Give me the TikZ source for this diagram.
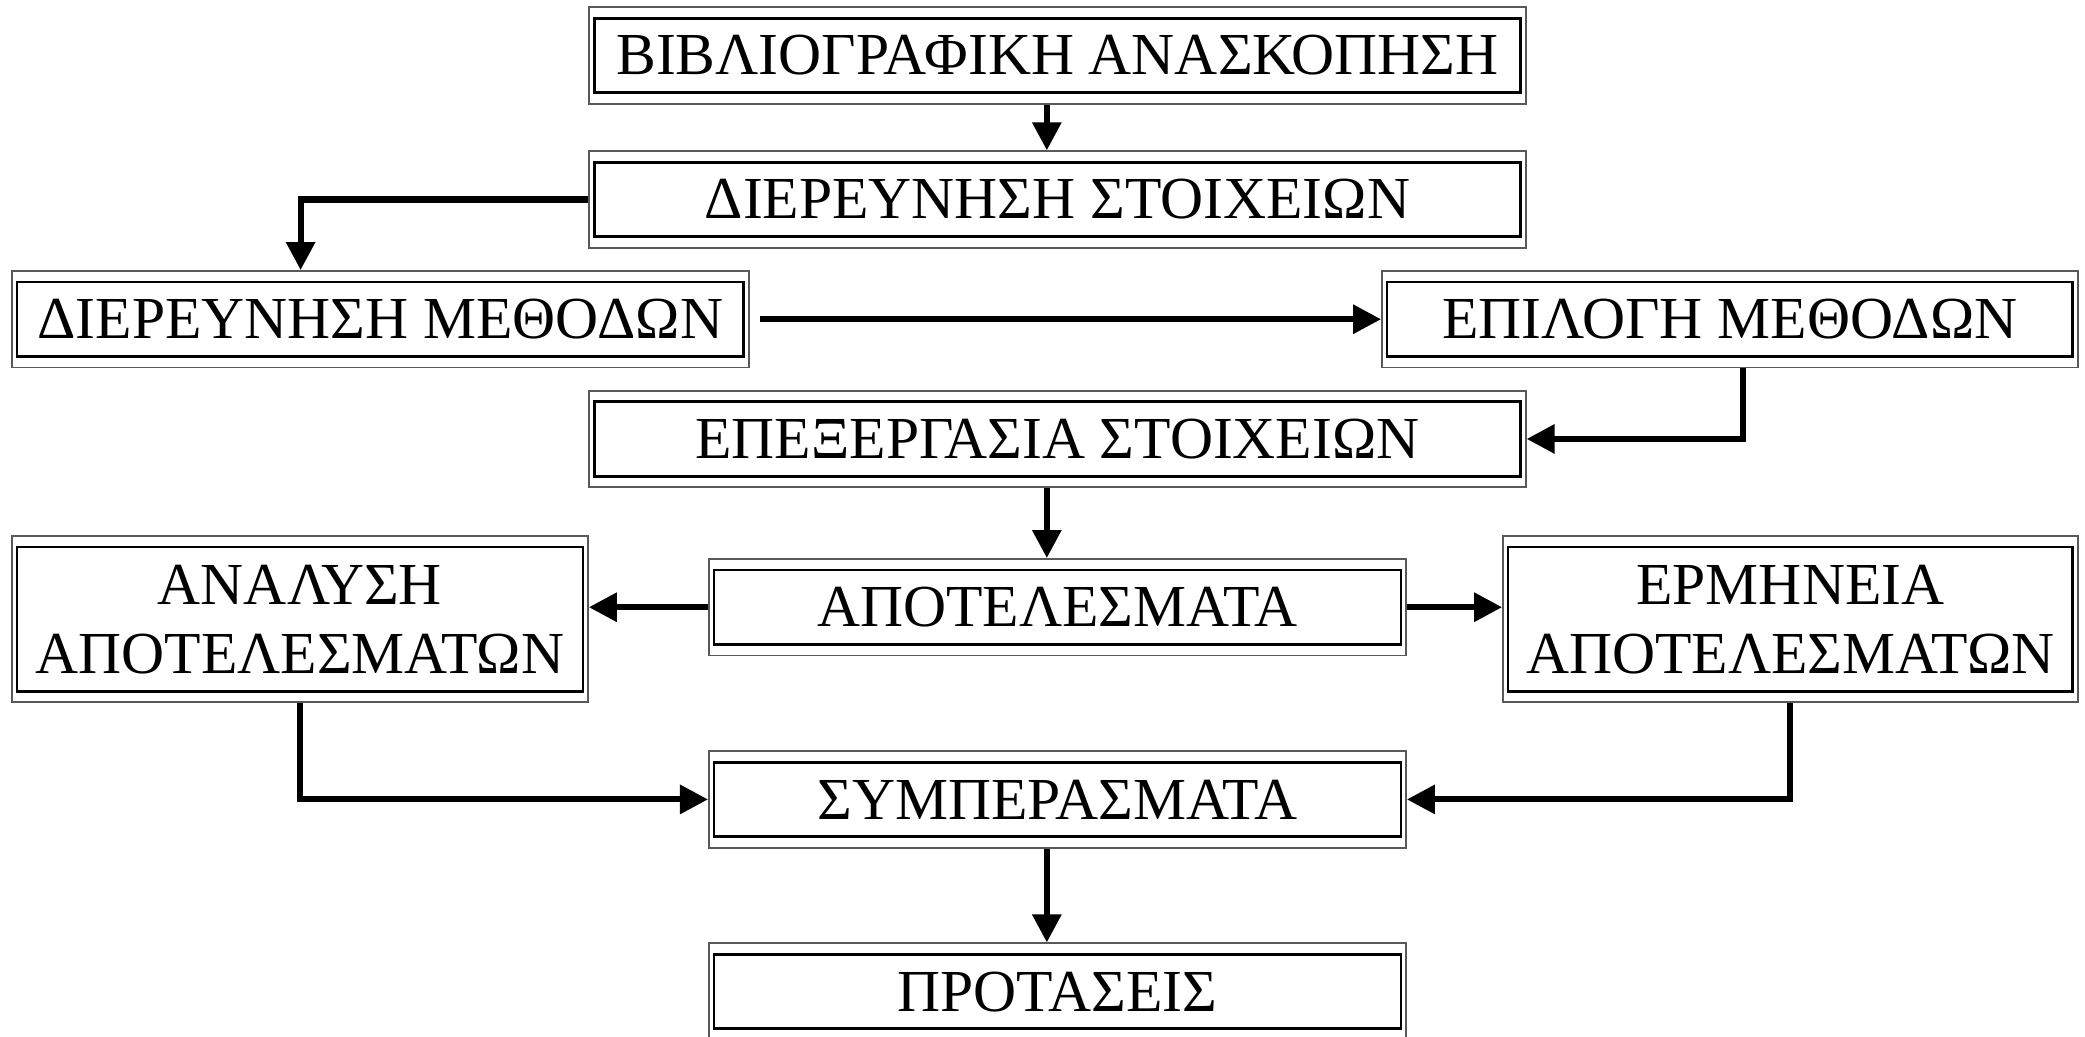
\documentclass[tikz,border=0pt]{standalone}
\usepackage{fontspec}
\setmainfont{Liberation Serif}
\usepackage{tikz}
\usetikzlibrary{arrows.meta, positioning, calc}

\begin{document}
\begin{tikzpicture}[
    box/.style={rectangle, draw=black!65, line width=0.8pt, minimum height=1.45cm, inner sep=0pt, align=center,
        font=\fontsize{25.5}{29.5}\selectfont,
        path picture={\draw[black, line width=1.2pt] ([shift={(0.075cm,-0.165cm)}]path picture bounding box.north west) rectangle ([shift={(-0.075cm,0.165cm)}]path picture bounding box.south east);}},
    tallbox/.style={box, minimum height=2.5cm},
    line/.style={draw=black, line width=2.6pt, -{Triangle[length=12pt, width=12pt]}}
]
    \useasboundingbox (0,0) rectangle (31.35,-15.59);

    % main column
    \node[box, minimum width=14.08cm] (biblio) at (15.9,-0.835) {ΒΙΒΛΙΟΓΡΑΦΙΚΗ ΑΝΑΣΚΟΠΗΣΗ};
    \node[box, minimum width=14.08cm] (dierstoix) at (15.9,-3.0) {ΔΙΕΡΕΥΝΗΣΗ ΣΤΟΙΧΕΙΩΝ};
    \node[box, minimum width=11.08cm] (diermeth) at (5.72,-4.8) {ΔΙΕΡΕΥΝΗΣΗ ΜΕΘΟΔΩΝ};
    \node[box, minimum width=10.46cm] (epilogi) at (26.01,-4.8) {ΕΠΙΛΟΓΗ ΜΕΘΟΔΩΝ};
    \node[box, minimum width=14.08cm] (epexerg) at (15.9,-6.6) {ΕΠΕΞΕΡΓΑΣΙΑ ΣΤΟΙΧΕΙΩΝ};

    % results row
    \node[tallbox, minimum width=8.66cm] (analysi) at (4.51,-9.31) {ΑΝΑΛΥΣΗ\\ΑΠΟΤΕΛΕΣΜΑΤΩΝ};
    \node[box, minimum width=10.48cm] (apotel) at (15.9,-9.13) {ΑΠΟΤΕΛΕΣΜΑΤΑ};
    \node[tallbox, minimum width=8.64cm] (ermineia) at (26.92,-9.31) {ΕΡΜΗΝΕΙΑ\\ΑΠΟΤΕΛΕΣΜΑΤΩΝ};

    \node[box, minimum width=10.48cm] (sympera) at (15.9,-12.02) {ΣΥΜΠΕΡΑΣΜΑΤΑ};
    \node[box, minimum width=10.48cm] (protaseis) at (15.9,-14.91) {ΠΡΟΤΑΣΕΙΣ};

    % Connectors
    \draw[line] ([xshift=-0.16cm]biblio.south) -- ([xshift=-0.16cm]dierstoix.north);
    \draw[line] (dierstoix.west) -| ([xshift=-1.2cm]diermeth.north);
    \draw[line] ([xshift=0.15cm]diermeth.east) -- (epilogi.west);
    \draw[line] ([xshift=0.2cm]epilogi.south) |- (epexerg.east);
    \draw[line] ([xshift=-0.16cm]epexerg.south) -- ([xshift=-0.16cm]apotel.north);
    \draw[line] (apotel.west) -- (apotel.west -| analysi.east);
    \draw[line] (apotel.east) -- (apotel.east -| ermineia.west);
    \draw[line] (analysi.south) |- (sympera.west);
    \draw[line] (ermineia.south) |- (sympera.east);
    \draw[line] ([xshift=-0.16cm]sympera.south) -- ([xshift=-0.16cm]protaseis.north);
\end{tikzpicture}
\end{document}
